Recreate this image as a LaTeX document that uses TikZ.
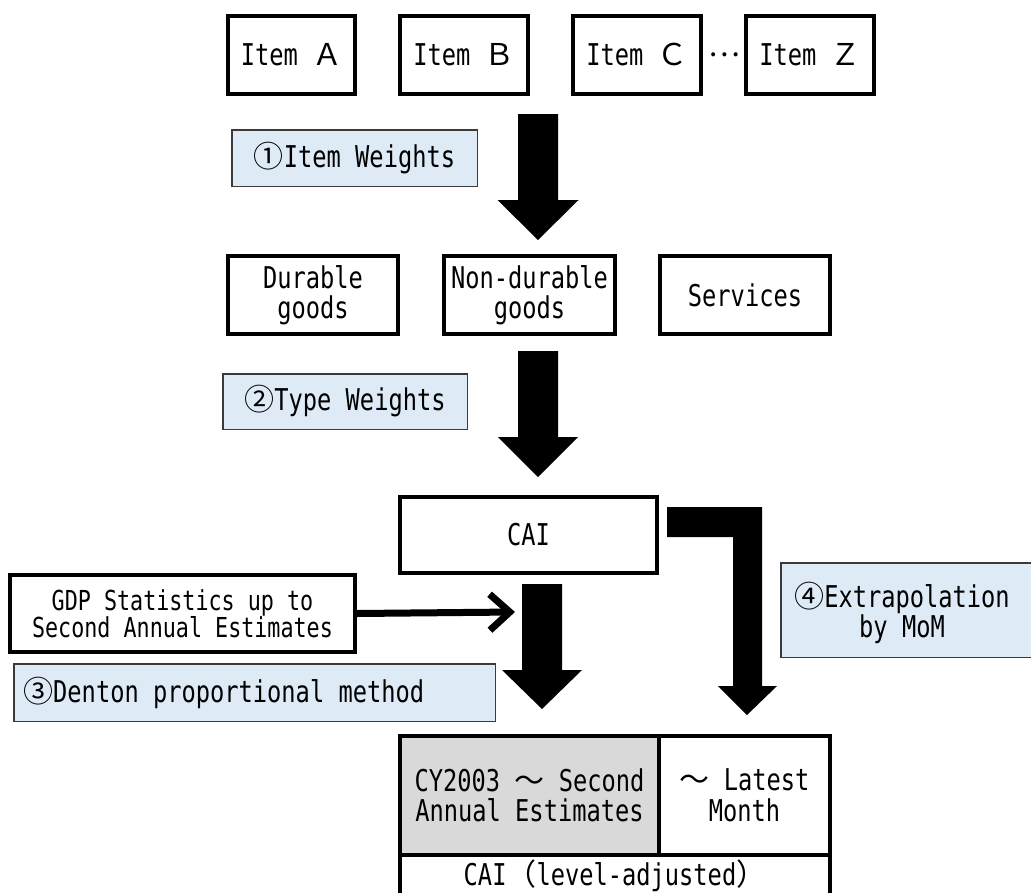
\documentclass[tikz,border=0pt]{standalone}
\usepackage{fontspec}
\usetikzlibrary{calc,arrows.meta}
\newfontfamily\mono[FakeStretch=0.79]{DejaVu Sans Mono}
\newfontfamily\jp{Noto Sans CJK JP}
\newcommand{\fsz}{\fontsize{30}{30.5}\selectfont}
\newcommand{\fsm}{\fontsize{27.5}{27}\selectfont}
\definecolor{lblue}{HTML}{DEEBF7}
\definecolor{gcell}{HTML}{D9D9D9}
\definecolor{lborder}{HTML}{3A3A3A}
\newcommand{\blk}[5]{%
  \fill ($(#1)+(-#3,0)$) -- ($(#1)+(#3,0)$) -- ($(#2)+(#3,-#5)$) -- ($(#2)+(#4,-#5)$) -- (#2)
        -- ($(#2)+(-#4,-#5)$) -- ($(#2)+(-#3,-#5)$) -- cycle;}
\begin{document}
\begin{tikzpicture}[x=1pt,y=-1pt,
  bx/.style={draw, line width=4pt, inner sep=0pt, align=center, font=\mono\fsz},
  lbl/.style={draw=lborder, line width=1.5pt, fill=lblue, inner sep=0pt, align=center, font=\mono\fsz},
  txt/.style={inner sep=0pt, align=center, font=\mono\fsz}]
\useasboundingbox (0,0) rectangle (1031,892);
\clip (0,0) rectangle (1031,892);
% row 1
\node[bx, minimum width=127pt, minimum height=78pt] (ia) at (291.5,55) {Item {\jp Ａ}};
\node[bx, minimum width=128pt, minimum height=78pt] (ib) at (464,55) {Item {\jp Ｂ}};
\node[bx, minimum width=128pt, minimum height=78pt] (ic) at (637,55) {Item {\jp Ｃ}};
\node[txt, font=\jp\fsz] (dots) at (724.5,55) {…};
\node[bx, minimum width=128pt, minimum height=78pt] (iz) at (810,55) {Item {\jp Ｚ}};
% step 1
\node[lbl, minimum width=245.5pt, minimum height=56.5pt] (w1) at (354.5,158) {{\jp ①}Item Weights};
\coordinate (a1s) at (538,114);
\coordinate (a1t) at (538,240);
\blk{a1s}{a1t}{20}{40.5}{40}
% row 2
\node[bx, minimum width=170.5pt, minimum height=78pt] (dur) at (313,295) {Durable\\goods};
\node[bx, minimum width=171pt, minimum height=78pt] (ndur) at (529.5,295) {Non-durable\\goods};
\node[bx, minimum width=170.5pt, minimum height=78pt] (serv) at (745,295) {Services};
% step 2
\node[lbl, minimum width=244.5pt, minimum height=55.5pt] (w2) at (345,401.5) {{\jp ②}Type Weights};
\coordinate (a2s) at (538,351);
\coordinate (a2t) at (538,477);
\blk{a2s}{a2t}{20}{40}{40}
% CAI
\node[bx, minimum width=257pt, minimum height=76pt] (cai) at (528.5,535) {CAI};
% GDP
\node[bx, minimum width=345pt, minimum height=77pt, font=\mono\fsm] (gdp) at (182.5,613.5) {GDP Statistics up to\\Second Annual Estimates};
\coordinate (gdpt) at (515,612);
\draw[line width=7pt, -{Straight Barb[length=20pt,width=36pt]}] (gdp.east) -- (gdpt);
% step 3
\coordinate (a3s) at (542,584);
\coordinate (a3t) at (542,709);
\blk{a3s}{a3t}{20}{40}{39}
\node[lbl, minimum width=481.5pt, minimum height=57.5pt] (w3) at (254.5,692.5) {};
\node[txt, anchor=west] (w3t) at ([xshift=10pt]w3.west) {{\jp ③}Denton proportional method};
% step 4 elbow arrow
\coordinate (e1) at (667,507);
\coordinate (e2) at (747,715);
\fill (e1) -- (762,507) -- (762,686) -- (777,686) -- (e2) -- (718,686) -- (733,686) -- (733,537) -- (667,537) -- cycle;
\node[lbl, minimum width=262pt, minimum height=94.5pt] (w4) at (912,610) {};
\node[txt] (w4t) at (902,613) {{\jp ④}Extrapolation\\by MoM};
% result table
\node[bx, fill=gcell, minimum width=259pt, minimum height=119pt] (c1) at (529.5,795.5) {CY2003 {\jp ～} Second\\Annual Estimates};
\node[bx, minimum width=171pt, minimum height=119pt] (c2) at (744.5,795.5) {{\jp ～} Latest\\Month};
\node[bx, minimum width=430pt, minimum height=60pt] (c3) at (615,885) {};
\node[txt] (c3t) at (615,876) {CAI{\jp （}level-adjusted{\jp ）}};
\end{tikzpicture}
\end{document}
